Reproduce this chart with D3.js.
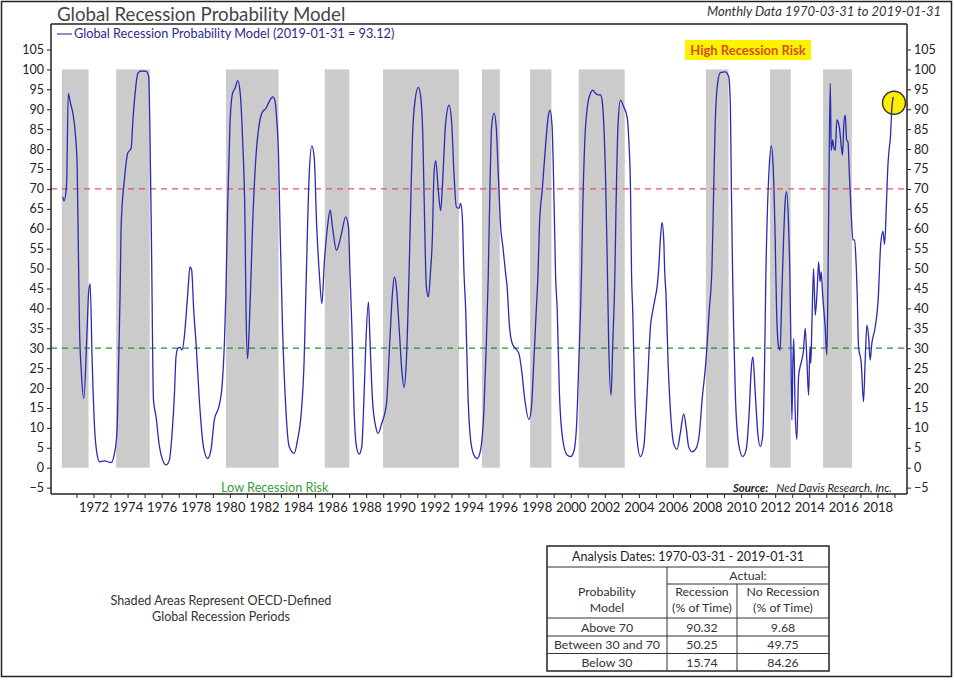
<!DOCTYPE html>
<html><head><meta charset="utf-8">
<script src="https://cdn.jsdelivr.net/npm/d3@7/dist/d3.min.js"></script>
<style>
body{margin:0;background:#fff;}
svg{display:block;font-family:Lato,"Open Sans",sans-serif;}
</style></head>
<body><svg id="c" width="954" height="683"></svg>
<script>
// ---- data (decimal years) ----
const years = [1970.20,1970.27,1970.42,1970.52,1970.65,1970.79,1970.95,1971.04,1971.12,1971.18,1971.28,1971.43,1971.61,1971.71,1971.80,1971.92,1972.06,1972.20,1972.35,1972.64,1973.03,1973.23,1973.37,1973.48,1973.56,1973.62,1973.82,1974.01,1974.21,1974.30,1974.46,1974.60,1974.79,1975.09,1975.24,1975.32,1975.40,1975.52,1975.67,1975.87,1976.06,1976.26,1976.45,1976.61,1976.75,1976.84,1976.94,1977.08,1977.20,1977.33,1977.53,1977.66,1977.76,1977.88,1978.02,1978.21,1978.45,1978.70,1978.89,1979.09,1979.38,1979.54,1979.68,1979.77,1979.87,1980.01,1980.16,1980.30,1980.46,1980.59,1980.75,1980.89,1980.95,1981.04,1981.14,1981.24,1981.34,1981.53,1981.73,1981.92,1982.12,1982.31,1982.51,1982.64,1982.74,1982.86,1982.94,1983.09,1983.29,1983.48,1983.78,1983.97,1984.17,1984.36,1984.46,1984.66,1984.81,1984.95,1985.09,1985.25,1985.40,1985.55,1985.73,1985.89,1986.02,1986.26,1986.51,1986.80,1986.96,1987.05,1987.16,1987.29,1987.43,1987.59,1987.74,1987.88,1987.98,1988.13,1988.23,1988.37,1988.56,1988.70,1988.91,1989.19,1989.38,1989.54,1989.66,1989.77,1989.93,1990.09,1990.22,1990.36,1990.51,1990.61,1990.71,1990.87,1991.06,1991.20,1991.33,1991.45,1991.53,1991.65,1991.78,1991.88,1991.98,1992.08,1992.23,1992.37,1992.51,1992.66,1992.86,1993.02,1993.15,1993.29,1993.45,1993.54,1993.64,1993.74,1993.84,1993.97,1994.13,1994.32,1994.52,1994.71,1994.91,1995.05,1995.16,1995.26,1995.36,1995.50,1995.63,1995.75,1995.89,1996.02,1996.18,1996.27,1996.41,1996.57,1996.77,1996.96,1997.12,1997.31,1997.55,1997.70,1997.84,1997.98,1998.09,1998.17,1998.33,1998.52,1998.68,1998.79,1998.91,1999.03,1999.11,1999.21,1999.34,1999.54,1999.79,1999.99,2000.18,2000.34,2000.48,2000.63,2000.71,2000.83,2000.98,2001.16,2001.30,2001.45,2001.61,2001.75,2001.84,2001.94,2002.04,2002.14,2002.23,2002.37,2002.47,2002.59,2002.66,2002.78,2002.92,2003.11,2003.31,2003.41,2003.51,2003.57,2003.64,2003.76,2003.90,2004.09,2004.29,2004.48,2004.68,2004.82,2004.97,2005.07,2005.17,2005.26,2005.36,2005.46,2005.52,2005.59,2005.71,2005.85,2006.04,2006.24,2006.43,2006.63,2006.77,2006.92,2007.12,2007.35,2007.55,2007.71,2007.94,2008.13,2008.29,2008.39,2008.48,2008.62,2008.78,2009.07,2009.27,2009.37,2009.43,2009.50,2009.56,2009.66,2009.85,2010.09,2010.29,2010.48,2010.59,2010.69,2010.83,2010.98,2011.12,2011.26,2011.38,2011.45,2011.55,2011.65,2011.77,2011.88,2012.00,2012.08,2012.20,2012.29,2012.39,2012.49,2012.59,2012.67,2012.78,2012.86,2012.92,2012.98,2013.04,2013.09,2013.17,2013.27,2013.37,2013.46,2013.56,2013.66,2013.76,2013.86,2013.96,2014.04,2014.09,2014.15,2014.25,2014.35,2014.45,2014.55,2014.63,2014.70,2014.78,2014.93,2015.03,2015.09,2015.16,2015.23,2015.29,2015.37,2015.43,2015.52,2015.62,2015.76,2015.88,2015.95,2016.03,2016.11,2016.19,2016.27,2016.35,2016.46,2016.56,2016.66,2016.73,2016.81,2016.89,2017.05,2017.18,2017.28,2017.38,2017.48,2017.57,2017.67,2017.87,2018.06,2018.14,2018.18,2018.32,2018.42,2018.52,2018.61,2018.69,2018.75,2018.85,2018.92];
const values = [68,67,71,94,91.5,89,83,76,52,35,24.5,17.4,33,43.7,46.2,27,10.3,3.6,1.5,1.7,1.3,3.6,8.6,27,43.7,60.5,72.6,79,80.2,86.4,94.8,99,99.6,99.5,98.2,82,57,17,12.8,5.3,1.9,0.7,1.9,8.6,18.6,27.8,29.9,30.2,29.5,32.9,43.7,50.4,49.6,39.5,31.2,17,5.3,2.3,4.4,12,15.7,20.3,31.2,43.7,65.5,86.4,94,95.2,97.2,94.8,82.3,61.3,39.5,27.4,35.4,47.9,61.3,78,86.4,89.4,90.2,91.9,93.1,92.3,88.1,78,61.3,35.4,14.5,5.3,3.6,6.9,12.8,27,43.7,73.9,80.8,78,61.3,48.8,41.2,52,60.5,64.7,60.5,54.6,58,63,60.5,48.8,35.4,14.5,5.3,3.4,5.3,18.6,31.2,41.6,31.2,17,10.3,8.6,11.1,16.1,31.2,43.7,47.9,45.4,35.4,24.5,20.2,27,47.9,65.5,82.3,92.3,95.5,93.1,82.3,57.2,45.4,42.9,49.6,57.2,73.9,77.1,69.7,64.5,73.9,86.4,91,86.4,73.9,65.5,65.1,66.4,63,48.8,39.5,18.6,6.9,3.2,2.3,4.4,14.5,31.2,47.9,69.7,85.6,89,85.6,73.9,60.5,55.5,48.8,45.4,35.4,31.2,29.9,28.7,24.5,17,12.1,15.3,27,39.5,49.6,61.3,69.7,80.6,88.1,89.8,85.6,65.5,48.8,39.5,18.6,6.9,3.2,2.8,4,10.3,27,47.9,65.5,82.3,90.6,94,94.8,94,93.6,93.6,92.3,86.4,73.9,53,31.2,18.2,31.2,47.9,65.5,86.4,92.3,90.6,88.1,82.3,69.7,48.8,39.5,18.6,6.9,2.8,5.3,18.6,35.4,39.5,42.9,45.4,50.4,57.2,61.6,57.2,48.8,43.7,27,14.5,6.1,4.6,8.6,13.5,10.3,5.3,4,4.8,8.6,17,27,39.5,50.4,69.7,86.4,96.5,99.2,99.4,98.2,90.6,69.7,48.8,35.4,18.6,6.1,2.8,4.4,14.5,24.5,27.8,18.6,8.6,5.3,7.8,27,47.9,65.5,75.6,80.8,75.6,57.2,39.5,30.4,29.5,43.7,57.2,67.2,69.3,61.3,48.8,31.2,12,27,32.4,14.5,7.1,22.8,25.3,27,29.5,35,27,18.2,30.4,26.2,35.4,50,38.3,43.7,51.7,46.7,49.2,43.7,35.4,28.3,43.7,73.9,96.5,79.7,82.3,80.6,79.7,87.3,85.6,80.6,78.5,86.4,88.5,82.3,81.8,73.9,63.8,57.2,57.2,53,43.7,30.4,26.2,16.6,27,35.8,32.9,27,31.2,35.4,43.7,52,55.5,59.3,56.1,65.5,75.6,80.2,82.3,90.6,93.12];

// OECD-defined global recession periods (decimal years)
const recStart = [1970.14,1973.33,1979.77,1985.57,1988.99,1994.79,1997.62,2000.47,2007.93,2011.70,2014.81];
const recEnd   = [1971.71,1975.30,1982.86,1987.01,1993.44,1995.84,1998.87,2003.17,2009.26,2012.91,2016.50];

const yTicks = d3.range(-5, 106, 5);
const xTickYears = d3.range(1971, 2020);
const xLabelYears = d3.range(1972, 2019, 2);
const highLevel = 70, lowLevel = 30;
const markerYear = 2018.97, markerValue = 91.6;

const tableTitle = "Analysis Dates: 1970-03-31 - 2019-01-31";
const tableRowLabels = ["Above 70", "Between 30 and 70", "Below 30"];
const tableRecession = ["90.32", "50.25", "15.74"];
const tableNoRecession = ["9.68", "49.75", "84.26"];

// ---- layout ----
const L = 51, R = 907, T = 24, B = 494;
const svg = d3.select("#c");
const x = d3.scaleLinear().domain([1972, 2019]).range([93.5, 894.5]);
const y = d3.scaleLinear().domain([-6.6, 111.4]).range([B, T]);

// outer border
svg.append("rect").attr("x",1.5).attr("y",1.5).attr("width",950).attr("height",675)
  .attr("fill","none").attr("stroke","#222").attr("stroke-width",1.5);

// recession shading
svg.append("g").selectAll("rect").data(recStart).join("rect")
  .attr("x", (d)=>x(d)).attr("width",(d,i)=>x(recEnd[i])-x(d))
  .attr("y", y(100)).attr("height", y(0)-y(100)).attr("fill","#cbcbcb");

// reference lines
svg.append("line").attr("x1",L).attr("x2",R).attr("y1",y(highLevel)).attr("y2",y(highLevel))
  .attr("stroke","#e0555a").attr("stroke-width",1.3).attr("stroke-dasharray","6,5");
svg.append("line").attr("x1",L).attr("x2",R).attr("y1",y(lowLevel)).attr("y2",y(lowLevel))
  .attr("stroke","#2f8f3a").attr("stroke-width",1.2).attr("stroke-dasharray","6,5");

// marker circle
svg.append("circle").attr("cx", x(markerYear)).attr("cy", y(markerValue)).attr("r", 11.5)
  .attr("fill","#ffee00").attr("stroke","#333").attr("stroke-width",1.5);

// series line
const line = d3.line().x((d,i)=>x(years[i])).y(d=>y(d)).curve(d3.curveMonotoneX);
svg.append("path").datum(values).attr("d", line).attr("fill","none")
  .attr("stroke","#2a2ab4").attr("stroke-width",1.3);

// frame
const frame = svg.append("g").attr("stroke","#222").attr("stroke-width",1.5);
frame.append("line").attr("x1",L).attr("x2",R).attr("y1",T).attr("y2",T);
frame.append("line").attr("x1",L).attr("x2",R).attr("y1",B).attr("y2",B);
frame.append("line").attr("x1",L).attr("x2",L).attr("y1",T).attr("y2",B);
frame.append("line").attr("x1",R).attr("x2",R).attr("y1",T).attr("y2",B);

// y axes
const axL = svg.append("g").attr("transform",`translate(${L},0)`)
  .call(d3.axisLeft(y).tickValues(yTicks).tickSize(4).tickPadding(3).tickFormat(d3.format("d")));
const axR = svg.append("g").attr("transform",`translate(${R},0)`)
  .call(d3.axisRight(y).tickValues(yTicks).tickSize(4).tickPadding(3).tickFormat(d3.format("d")));
[axL, axR].forEach(a=>{
  a.select(".domain").remove();
  a.selectAll("line").attr("stroke","#222");
  a.selectAll("text").attr("font-size",12.5).attr("fill","#222").attr("font-family","Lato");
});

// x axis
const axB = svg.append("g").attr("transform",`translate(0,${B})`)
  .call(d3.axisBottom(x).tickValues(xTickYears).tickSize(4).tickPadding(5)
    .tickFormat(d=> xLabelYears.includes(d) ? String(d) : ""));
axB.select(".domain").remove();
axB.selectAll("line").attr("stroke","#222");
axB.selectAll("text").attr("font-size",13).attr("fill","#222").attr("font-family","Lato");

// titles
svg.append("text").attr("x",57).attr("y",21).attr("font-size",18.7).attr("fill","#444")
  .text("Global Recession Probability Model");
svg.append("text").attr("x",941).attr("y",16).attr("text-anchor","end").attr("font-size",13)
  .attr("font-style","italic").attr("fill","#333").text("Monthly Data 1970-03-31 to 2019-01-31");

// legend
svg.append("line").attr("x1",57).attr("x2",72).attr("y1",34).attr("y2",34)
  .attr("stroke","#6a6ab0").attr("stroke-width",1.5);
svg.append("text").attr("x",74).attr("y",38).attr("font-size",12.7).attr("fill","#2b2b8c")
  .text("Global Recession Probability Model (2019-01-31 = 93.12)");

// high risk label
svg.append("rect").attr("x",685).attr("y",40).attr("width",126).attr("height",20).attr("fill","#fff200");
svg.append("text").attr("x",748).attr("y",54.5).attr("text-anchor","middle").attr("font-size",13)
  .attr("font-weight","bold").attr("fill","#d4501a").text("High Recession Risk");

// low risk label
svg.append("text").attr("x",221).attr("y",492).attr("font-size",12.7).attr("fill","#3a9a3a")
  .text("Low Recession Risk");

// source
const src = svg.append("text").attr("x",892).attr("y",492).attr("text-anchor","end")
  .attr("font-size",11.4).attr("font-style","italic").attr("fill","#222");
src.append("tspan").attr("font-weight","bold").text("Source:");
src.append("tspan").text("\u00a0\u00a0 Ned Davis Research, Inc.");

// note (two separate lines)
svg.append("text").attr("x",221).attr("y",604.5).attr("text-anchor","middle").attr("font-size",12.6)
  .attr("fill","#333").text("Shaded Areas Represent OECD-Defined");
svg.append("text").attr("x",221).attr("y",620.5).attr("text-anchor","middle").attr("font-size",12.6)
  .attr("fill","#333").text("Global Recession Periods");

// table
const tx0 = 547, tx1 = 667, tx2 = 737, tx3 = 829;
const ty = [546, 567, 584, 618, 636, 653.5, 671];
const tg = svg.append("g");
const tl = (a,b,c,d,w)=>tg.append("line").attr("x1",a).attr("x2",b).attr("y1",c).attr("y2",d)
  .attr("stroke","#333").attr("stroke-width",w||1);
tg.append("rect").attr("x",tx0).attr("y",ty[0]).attr("width",tx3-tx0).attr("height",ty[6]-ty[0])
  .attr("fill","none").attr("stroke","#222").attr("stroke-width",1.5);
tl(tx0,tx3,ty[1],ty[1]);
tl(tx1,tx3,ty[2],ty[2]);
tl(tx0,tx3,ty[3],ty[3]);
tl(tx0,tx3,ty[4],ty[4]);
tl(tx0,tx3,ty[5],ty[5]);
tl(tx1,tx1,ty[1],ty[6]);
tl(tx2,tx2,ty[2],ty[6]);
const tt = (xx,yy,s)=>tg.append("text").attr("x",xx).attr("y",yy).attr("text-anchor","middle")
  .attr("font-size",12.3).attr("fill","#333").text(s);
tt((tx0+tx3)/2, 561, tableTitle).attr("font-size",12.5).attr("fill","#222");
tt((tx1+tx3)/2, 580, "Actual:");
tt((tx0+tx1)/2, 596, "Probability");
tt((tx0+tx1)/2, 612, "Model");
tt((tx1+tx2)/2, 596, "Recession");
tt((tx1+tx2)/2, 612, "(% of Time)");
tt((tx2+tx3)/2, 596, "No Recession");
tt((tx2+tx3)/2, 612, "(% of Time)");
tableRowLabels.forEach((lab,i)=>{
  const yy = (ty[3+i]+ty[4+i])/2 + 4.5;
  tt((tx0+tx1)/2, yy, lab);
  tt((tx1+tx2)/2, yy, tableRecession[i]);
  tt((tx2+tx3)/2, yy, tableNoRecession[i]);
});
</script></body></html>
